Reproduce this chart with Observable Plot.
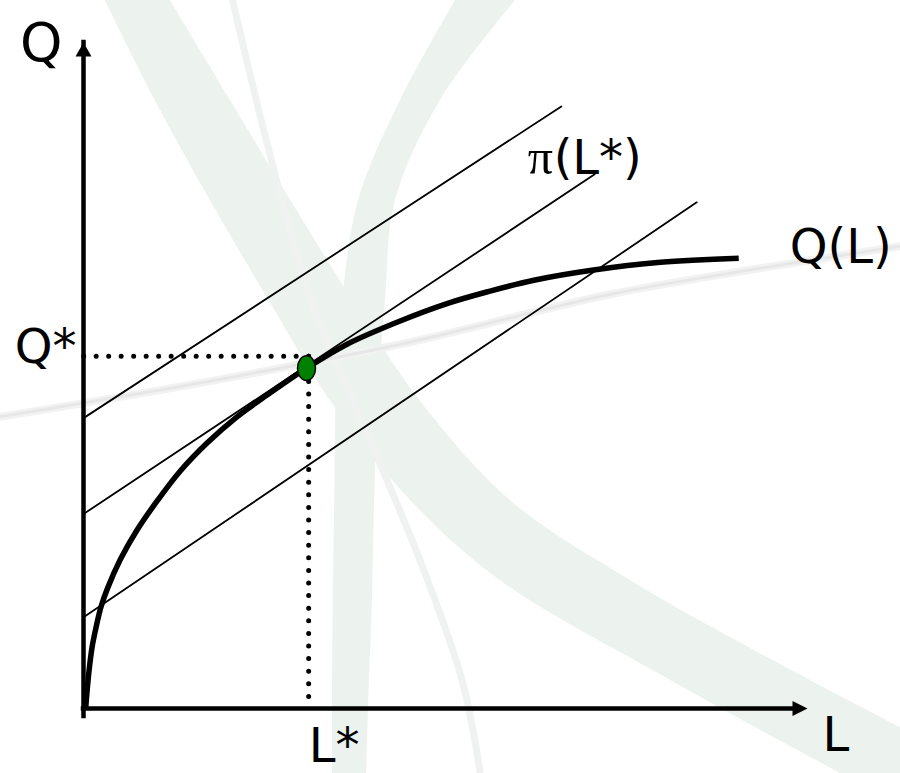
<!DOCTYPE html>
<html>
<head>
<meta charset="utf-8">
<script src="https://cdn.jsdelivr.net/npm/d3@7"></script>
<script src="https://cdn.jsdelivr.net/npm/@observablehq/plot@0.6"></script>
<style>
  html, body { margin: 0; padding: 0; background: #fff; }
  #chart svg { display: block; }
</style>
</head>
<body>
<div id="chart"></div>
<script>
// Axis extents, in units of labour (L) and output (Q)
const Lmax = 10;
const Qmax = 10;

// Production function Q(L)
const curveL = [0.03, 0.05, 0.08, 0.12, 0.17, 0.24, 0.33, 0.51, 0.74, 1.02, 1.34, 1.71, 2.12, 2.54, 3.08, 3.64, 4.33, 5.02, 5.59, 6.22, 7.02, 7.97, 9.05];
const curveQ = [0.00, 0.27, 0.60, 0.93, 1.20, 1.52, 1.80, 2.24, 2.68, 3.12, 3.57, 3.99, 4.38, 4.71, 5.11, 5.47, 5.80, 6.08, 6.26, 6.43, 6.58, 6.70, 6.76];

// Iso-profit lines: Q-axis intercept and far end point
const isoNames = ["high", "optimal", "low"];
const isoStartQ = [4.36, 2.92, 1.37];
const isoEndL = [6.60, 7.06, 8.47];
const isoEndQ = [9.04, 8.02, 7.60];

// Profit-maximising choice
const tangentL = [3.08];
const tangentQ = [5.11];
const Lstar = 3.11;
const Qstar = 5.29;

// Text
const axisTitles = ["L", "Q"];
const optimumLabels = ["L*", "Q*"];
const curveLabel = "Q(L)";
const profitLabel = ["π", "(L*)"];

// Faint logo swooshes in the background
const swooshQ = [10.63, 9.13, 7.63, 6.13, 4.62, 3.12, 1.92, 0.42, -0.98];
const swooshALeft = [0.30, 0.99, 1.75, 2.56, 3.41, 4.52, 5.76, 8.11, 10.46];
const swooshARight = [1.20, 2.03, 2.86, 3.72, 4.65, 5.90, 7.56, 10.04, 12.53];
const swooshBQ = [10.63, 9.13, 7.63, 6.13, 4.62, 3.12, 1.62, 0.12, -0.98];
const swooshBLeft = [5.14, 4.38, 3.80, 3.58, 3.49, 3.47, 3.45, 3.44, 3.44];
const swooshBRight = [5.97, 4.93, 4.31, 4.17, 4.07, 4.02, 3.99, 3.94, 3.91];
const strandL = [2.06, 2.56, 3.14, 3.90, 4.65, 5.23, 5.48];
const strandQ = [10.63, 8.38, 6.13, 4.17, 2.22, 0.42, -0.98];
const horizonL = [-1.15, 1.62, 4.38, 7.28, 9.35, 11.28];
const horizonQ = [4.38, 4.89, 5.47, 6.22, 6.61, 6.94];

// ---- build tables for the marks ----
const curve = curveL.map((L, i) => ({L, Q: curveQ[i]}));
const iso = isoNames.flatMap((name, i) => [
  {name, L: 0, Q: isoStartQ[i]},
  {name, L: isoEndL[i], Q: isoEndQ[i]}
]);
const swooshA = swooshQ.map((Q, i) => ({Q, l: swooshALeft[i], r: swooshARight[i]}));
const swooshB = swooshBQ.map((Q, i) => ({Q, l: swooshBLeft[i], r: swooshBRight[i]}));
const strand = strandL.map((L, i) => ({L, Q: strandQ[i]}));
const horizon = horizonL.map((L, i) => ({L, Q: horizonQ[i]}));
const optimum = tangentL.map((L, i) => ({L, Q: tangentQ[i]}));
const guideH = [{L: Lstar, Q: Qstar}, {L: 0, Q: Qstar}];
const guideV = [{L: Lstar, Q: Qstar}, {L: Lstar, Q: 0}];

// Custom symbols: an upright ellipse and solid arrowheads (tip at the anchor)
const ellipse = (rx, ry) => ({
  draw(ctx) {
    const k = 0.5523;
    ctx.moveTo(rx, 0);
    ctx.bezierCurveTo(rx, k * ry, k * rx, ry, 0, ry);
    ctx.bezierCurveTo(-k * rx, ry, -rx, k * ry, -rx, 0);
    ctx.bezierCurveTo(-rx, -k * ry, -k * rx, -ry, 0, -ry);
    ctx.bezierCurveTo(k * rx, -ry, rx, -k * ry, rx, 0);
    ctx.closePath();
  }
});
const arrowUp = {draw(ctx) { ctx.moveTo(0, 0); ctx.lineTo(8, 14); ctx.lineTo(-8, 14); ctx.closePath(); }};
const arrowRight = {draw(ctx) { ctx.moveTo(0, 0); ctx.lineTo(-15, -7.5); ctx.lineTo(-15, 7.5); ctx.closePath(); }};

const font = "DejaVu Sans";

const chart = Plot.plot({
  width: 900,
  height: 773,
  marginLeft: 83,
  marginRight: 93,
  marginTop: 42,
  marginBottom: 65,
  x: {domain: [0, Lmax], axis: null},
  y: {domain: [0, Qmax], axis: null},
  style: {background: "white", fontFamily: font},
  marks: [
    // background swooshes
    Plot.areaX(swooshA, {y: "Q", x1: "l", x2: "r", fill: "#ecf2ee", curve: "catmull-rom"}),
    Plot.areaX(swooshB, {y: "Q", x1: "l", x2: "r", fill: "#ecf2ee", curve: "catmull-rom"}),
    Plot.line(strand, {x: "L", y: "Q", stroke: "#f0f2f1", strokeWidth: 7, curve: "catmull-rom"}),
    Plot.line(horizon, {x: "L", y: "Q", stroke: "#f2f2f2", strokeWidth: 8, curve: "catmull-rom"}),
    Plot.line(horizon, {x: "L", y: "Q", stroke: "#e7e7e7", strokeWidth: 3, curve: "catmull-rom"}),

    // axes with arrowheads
    Plot.ruleX([0], {y1: 0, y2: Qmax, insetTop: 8, stroke: "black", strokeWidth: 4.5, strokeLinecap: "square"}),
    Plot.ruleY([0], {x1: 0, x2: Lmax, insetRight: 8, stroke: "black", strokeWidth: 4.5, strokeLinecap: "square"}),
    Plot.dot([{L: 0, Q: Qmax}], {x: "L", y: "Q", symbol: arrowUp, fill: "black", stroke: "none"}),
    Plot.dot([{L: Lmax, Q: 0}], {x: "L", y: "Q", symbol: arrowRight, fill: "black", stroke: "none"}),

    // dotted guides to L* and Q*
    Plot.line(guideH, {x: "L", y: "Q", stroke: "black", strokeWidth: 5, strokeDasharray: "0 12.5", strokeLinecap: "round"}),
    Plot.line(guideV, {x: "L", y: "Q", stroke: "black", strokeWidth: 5, strokeDasharray: "0 12.6", strokeLinecap: "round"}),

    // iso-profit lines
    Plot.line(iso, {x: "L", y: "Q", z: "name", stroke: "black", strokeWidth: 1.8}),

    // production function
    Plot.line(curve, {x: "L", y: "Q", stroke: "black", strokeWidth: 5.5, strokeLinecap: "butt", curve: "catmull-rom"}),

    // tangency point
    Plot.dot(optimum, {x: "L", y: "Q", symbol: ellipse(9, 12.3), fill: "#008000", stroke: "black", strokeWidth: 1.5}),

    // labels
    Plot.text([axisTitles[1]], {x: () => 0, y: () => Qmax, text: d => d, textAnchor: "end", lineAnchor: "bottom", dx: -21, dy: 18, fontSize: 54, fill: "black"}),
    Plot.text([axisTitles[0]], {x: () => Lmax, y: () => 0, text: d => d, textAnchor: "start", lineAnchor: "bottom", dx: 15, dy: 42, fontSize: 48, fill: "black"}),
    Plot.text([optimumLabels[1]], {x: () => 0, y: () => Qstar, text: d => d, textAnchor: "end", lineAnchor: "bottom", dx: -7, dy: 7, fontSize: 48, fill: "black"}),
    Plot.text([optimumLabels[0]], {x: () => Lstar, y: () => 0, text: d => d, textAnchor: "start", lineAnchor: "bottom", dx: 0, dy: 53, fontSize: 48, fill: "black"}),
    Plot.text([profitLabel[0]], {x: () => isoEndL[1], y: () => isoEndQ[1], text: d => d, textAnchor: "start", lineAnchor: "bottom", dx: -67, dy: 0, fontSize: 50, fontFamily: "Liberation Serif", fill: "black"}),
    Plot.text([profitLabel[1]], {x: () => isoEndL[1], y: () => isoEndQ[1], text: d => d, textAnchor: "start", lineAnchor: "bottom", dx: -41, dy: 0, fontSize: 48, fill: "black"}),
    Plot.text([curveLabel], {x: () => curveL[curveL.length - 1], y: () => curveQ[curveQ.length - 1], text: d => d, textAnchor: "start", lineAnchor: "bottom", dx: 51, dy: 5, fontSize: 48, fill: "black"})
  ]
});

document.getElementById("chart").append(chart);
</script>
</body>
</html>
